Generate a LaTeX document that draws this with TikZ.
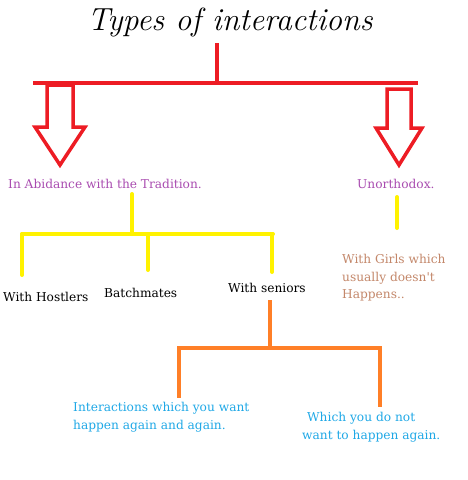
\documentclass[tikz,border=0pt]{standalone}
\usepackage{fontspec}
\usetikzlibrary{positioning}
\newfontfamily\labelfont{DejaVu Serif}
\definecolor{paintred}{HTML}{ED1C24}
\definecolor{paintyellow}{HTML}{FFF200}
\definecolor{paintorange}{HTML}{FF7F27}
\definecolor{txtpurple}{HTML}{A94CB0}
\definecolor{txtbrown}{HTML}{C3876A}
\definecolor{txtblue}{HTML}{1FA8E6}

\begin{document}
\begin{tikzpicture}[x=1pt, y=-1pt,
    lbl/.style={font=\labelfont\fontsize{12.2}{17.5}\selectfont, inner sep=0pt, anchor=west, align=left},
    redline/.style={paintred, line width=4pt},
    hollow/.style={paintred, line width=3.5pt, line join=miter},
    yline/.style={paintyellow, line width=4pt, line cap=round},
    oline/.style={paintorange, line width=4pt}]
    \useasboundingbox (0,0) rectangle (467,480);
    % Tiêu đề
    \node[font=\itshape\fontsize{32}{34}\selectfont] (title) at (230,22) {Types of interactions};
    % Thanh đỏ
    \coordinate (redtop) at (217,43);
    \coordinate (barL) at (33,83);
    \coordinate (barR) at (418,83);
    \draw[redline] (redtop) -- (redtop |- barL);
    \draw[redline] (barL) -- (barR);
    % Mũi tên rỗng
    \draw[hollow] (47,85) -- (47,127) -- (35,127) -- (60,165) -- (85,127)
        -- (73,127) -- (73,85) -- cycle;
    \draw[hollow] (387,89) -- (387,128) -- (376,128) -- (399,165) -- (422,128)
        -- (411,128) -- (411,89) -- cycle;

    \node[lbl, text=txtpurple] (trad) at (8,184) {In Abidance with the Tradition.};
    \node[lbl, text=txtpurple] (unortho) at (357,184) {Unorthodox.};

    % Nhánh vàng
    \coordinate (ytop) at (132,194);
    \coordinate (ybarL) at (22,234);
    \coordinate (ybarR) at (273,234);
    \draw[yline] (ytop) -- (ytop |- ybarL);
    \draw[yline] (ybarL) -- (ybarR);
    \node[lbl] (hostlers) at (3,297) {With Hostlers};
    \node[lbl] (batch) at (104,293) {Batchmates};
    \node[lbl] (seniors) at (228,288) {With seniors};
    \draw[yline] (ybarL) -- (22,275);
    \draw[yline] (148,234) -- (148,270);
    \draw[yline] (272,234) -- (272,272);

    \coordinate (ugtop) at (397,197);
    \draw[yline] (ugtop) -- (397,228);
    \node[lbl, text=txtbrown] (girls) at (342,278) {With Girls which\\usually doesn't\\Happens..};

    % Nhánh cam
    \coordinate (otop) at (270,300);
    \coordinate (obarL) at (177,348);
    \coordinate (obarR) at (382,348);
    \draw[oline] (otop) -- (otop |- obarL);
    \draw[oline] (obarL) -- (obarR);
    \draw[oline] (179,346) -- (179,398);
    \draw[oline] (380,346) -- (380,407);
    \node[lbl, text=txtblue] (again) at (73,417) {Interactions which you want\\happen again and again.};
    \node[lbl, text=txtblue] (notagain) at (302,427) {\hspace{5pt}Which you do not\\want to happen again.};
\end{tikzpicture}
\end{document}
